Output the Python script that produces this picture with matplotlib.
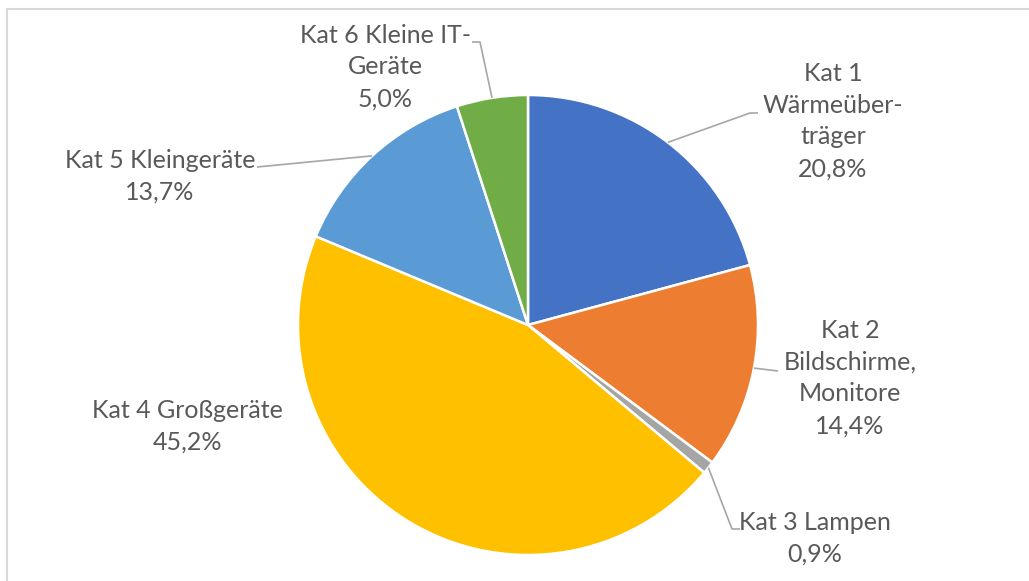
import numpy as np
import matplotlib
matplotlib.use("Agg")
import matplotlib.pyplot as plt
from matplotlib.lines import Line2D

# ---- data ----
categories = ["Kat 1\nWärmeüber-\nträger", "Kat 2\nBildschirme,\nMonitore", "Kat 3 Lampen",
              "Kat 4 Großgeräte", "Kat 5 Kleingeräte", "Kat 6 Kleine IT-\nGeräte"]
values = [20.8, 14.4, 0.9, 45.2, 13.7, 5.0]
value_labels = ["20,8%", "14,4%", "0,9%", "45,2%", "13,7%", "5,0%"]
colors = ["#4472C4", "#ED7D31", "#A5A5A5", "#FFC000", "#5B9BD5", "#70AD47"]

# ---- layout (pixel coords, y from top) ----
W, H = 1029, 581
center_px = (528, 325)
radius = 230
label_pos = [(833, 121), (850, 378), (815, 538), (187, 426), (160, 176), (385, 67)]
leader_pts = [[(750, 113), (758, 113)],
              [(778, 371)],
              [(732, 529), (740, 529)],
              None,
              [(257, 167)],
              [(480, 42), (472, 42)]]

fig = plt.figure(figsize=(W / 100, H / 100), dpi=100)
ax = fig.add_axes([0, 0, 1, 1])

def fy(y):
    return H - y

cx, cy = center_px[0], fy(center_px[1])
wedges, _ = ax.pie(values, colors=colors, startangle=90, counterclock=False,
                   center=(cx, cy), radius=radius,
                   wedgeprops=dict(edgecolor="white", linewidth=1.8))
ax.set_xlim(0, W)
ax.set_ylim(0, H)
ax.set_aspect("equal")
ax.axis("off")

txt_color = "#595959"
line_color = "#A6A6A6"
for w, cat, vl, (lx, ly), lp in zip(wedges, categories, value_labels, label_pos, leader_pts):
    ax.text(lx, fy(ly), cat + "\n" + vl, ha="center", va="center", multialignment="center",
            fontsize=18, color=txt_color, family="Lato", linespacing=1.46)
    if lp is not None:
        ang = np.deg2rad((w.theta1 + w.theta2) / 2)
        sx = cx + radius * np.cos(ang)
        sy = cy + radius * np.sin(ang)
        xs = [sx] + [p[0] for p in lp]
        ys = [sy] + [fy(p[1]) for p in lp]
        ax.plot(xs, ys, color=line_color, lw=1.2, solid_capstyle="butt")

# chart frame
ax.add_line(Line2D([7, 7], [0, fy(9)], color="#D9D9D9", lw=1.5))
ax.add_line(Line2D([7, W], [fy(9), fy(9)], color="#D9D9D9", lw=1.5))

fig.savefig("out.png", dpi=100, facecolor="white")
